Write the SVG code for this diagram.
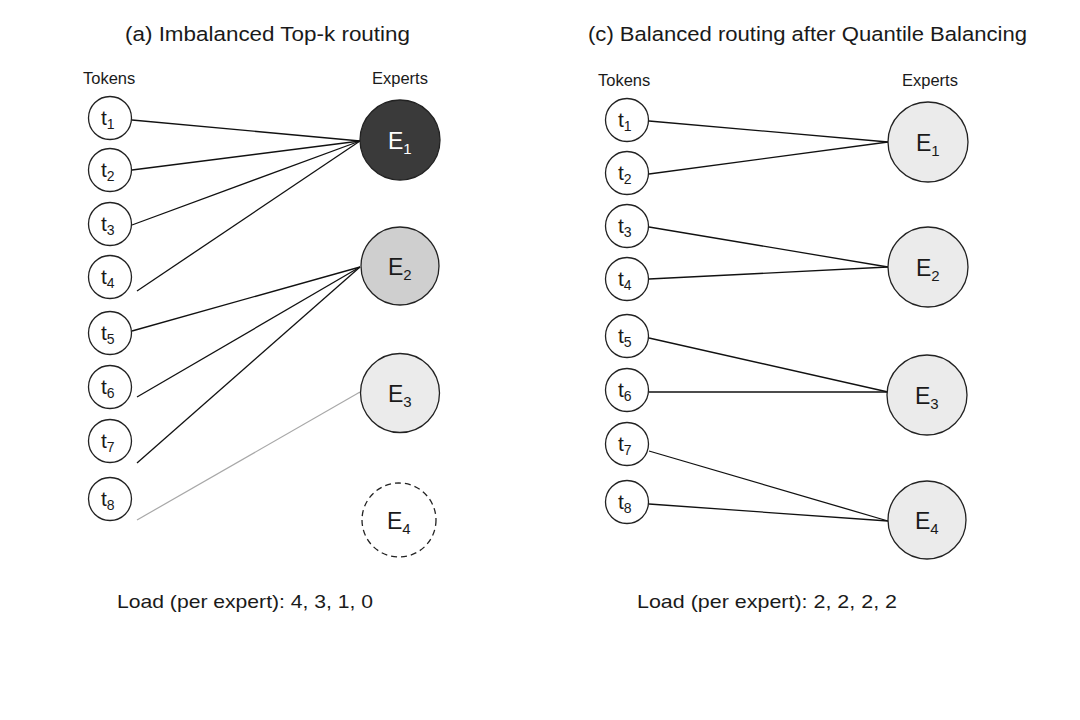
<svg xmlns="http://www.w3.org/2000/svg" width="1080" height="720" viewBox="0 0 1080 720">
<style>
text{font-family:"Liberation Sans",Arial,sans-serif;fill:#1a1a1a}
.title{font-size:20.5px}
.hdr{font-size:16.5px}
.load{font-size:19px}
.tok{fill:#fff;stroke:#222;stroke-width:1.3}
.tl{font-size:21px}
.sub{font-size:14px}
.el{font-size:23px}
.es{font-size:15px}
.exp{stroke:#222;stroke-width:1.3}
.conn line{stroke:#111;stroke-width:1.3}
</style>
<rect width="1080" height="720" fill="#fff"/>
<text class="title" x="125" y="41" textLength="285" lengthAdjust="spacingAndGlyphs">(a) Imbalanced Top-k routing</text>
<text class="title" x="588" y="41" textLength="439" lengthAdjust="spacingAndGlyphs">(c) Balanced routing after Quantile Balancing</text>
<text class="hdr" x="83" y="84">Tokens</text>
<text class="hdr" x="372" y="84">Experts</text>
<text class="hdr" x="598" y="86">Tokens</text>
<text class="hdr" x="902" y="86">Experts</text>

<g class="conn" id="connectors-a">
<line x1="132" y1="120" x2="360" y2="141"/>
<line x1="132" y1="170" x2="360" y2="141"/>
<line x1="132" y1="225" x2="360" y2="141"/>
<line x1="137" y1="291" x2="360" y2="141"/>
<line x1="132" y1="331" x2="360" y2="267"/>
<line x1="137" y1="397" x2="360" y2="267"/>
<line x1="137" y1="463" x2="360" y2="267"/>
<line x1="137" y1="520" x2="360" y2="392" style="stroke:#a8a8a8;stroke-width:1.2"/>
</g>
<g class="conn" id="connectors-c">
<line x1="649" y1="121" x2="888" y2="142"/>
<line x1="649" y1="174" x2="888" y2="142"/>
<line x1="649" y1="227" x2="888" y2="267"/>
<line x1="649" y1="279" x2="888" y2="267"/>
<line x1="649" y1="338" x2="888" y2="392"/>
<line x1="649" y1="392" x2="888" y2="392"/>
<line x1="649" y1="451" x2="888" y2="521"/>
<line x1="649" y1="504" x2="888" y2="521"/>
</g>

<g id="a-t1"><circle class="tok" cx="110" cy="118" r="21.5"/><text class="tl" x="101" y="125">t<tspan class="sub" dy="4">1</tspan></text></g>
<g id="a-t2"><circle class="tok" cx="110" cy="170" r="21.5"/><text class="tl" x="101" y="177">t<tspan class="sub" dy="4">2</tspan></text></g>
<g id="a-t3"><circle class="tok" cx="110" cy="224" r="21.5"/><text class="tl" x="101" y="231">t<tspan class="sub" dy="4">3</tspan></text></g>
<g id="a-t4"><circle class="tok" cx="110" cy="277" r="21.5"/><text class="tl" x="101" y="284">t<tspan class="sub" dy="4">4</tspan></text></g>
<g id="a-t5"><circle class="tok" cx="110" cy="333" r="21.5"/><text class="tl" x="101" y="340">t<tspan class="sub" dy="4">5</tspan></text></g>
<g id="a-t6"><circle class="tok" cx="110" cy="387" r="21.5"/><text class="tl" x="101" y="394">t<tspan class="sub" dy="4">6</tspan></text></g>
<g id="a-t7"><circle class="tok" cx="110" cy="441" r="21.5"/><text class="tl" x="101" y="448">t<tspan class="sub" dy="4">7</tspan></text></g>
<g id="a-t8"><circle class="tok" cx="110" cy="499" r="21.5"/><text class="tl" x="101" y="506">t<tspan class="sub" dy="4">8</tspan></text></g>

<g id="a-E1"><circle class="exp" cx="400" cy="140" r="40" fill="#3a3a3a"/><text class="el" x="388" y="149" style="fill:#fff">E<tspan class="es" dy="5" style="fill:#fff">1</tspan></text></g>
<g id="a-E2"><circle class="exp" cx="400" cy="266" r="39" fill="#cfcfcf"/><text class="el" x="388" y="275">E<tspan class="es" dy="5">2</tspan></text></g>
<g id="a-E3"><circle class="exp" cx="400" cy="393" r="39.5" fill="#ebebeb"/><text class="el" x="388" y="402">E<tspan class="es" dy="5">3</tspan></text></g>
<g id="a-E4"><circle class="exp" cx="399" cy="520" r="37" fill="none" stroke-dasharray="6,4"/><text class="el" x="387" y="529">E<tspan class="es" dy="5">4</tspan></text></g>

<g id="c-t1"><circle class="tok" cx="627" cy="120" r="21.5"/><text class="tl" x="618" y="127">t<tspan class="sub" dy="4">1</tspan></text></g>
<g id="c-t2"><circle class="tok" cx="627" cy="173" r="21.5"/><text class="tl" x="618" y="180">t<tspan class="sub" dy="4">2</tspan></text></g>
<g id="c-t3"><circle class="tok" cx="627" cy="226" r="21.5"/><text class="tl" x="618" y="233">t<tspan class="sub" dy="4">3</tspan></text></g>
<g id="c-t4"><circle class="tok" cx="627" cy="279" r="21.5"/><text class="tl" x="618" y="286">t<tspan class="sub" dy="4">4</tspan></text></g>
<g id="c-t5"><circle class="tok" cx="627" cy="336" r="21.5"/><text class="tl" x="618" y="343">t<tspan class="sub" dy="4">5</tspan></text></g>
<g id="c-t6"><circle class="tok" cx="627" cy="390" r="21.5"/><text class="tl" x="618" y="397">t<tspan class="sub" dy="4">6</tspan></text></g>
<g id="c-t7"><circle class="tok" cx="627" cy="444" r="21.5"/><text class="tl" x="618" y="451">t<tspan class="sub" dy="4">7</tspan></text></g>
<g id="c-t8"><circle class="tok" cx="627" cy="502" r="21.5"/><text class="tl" x="618" y="509">t<tspan class="sub" dy="4">8</tspan></text></g>

<g id="c-E1"><circle class="exp" cx="928" cy="142" r="40" fill="#ebebeb"/><text class="el" x="916" y="151">E<tspan class="es" dy="5">1</tspan></text></g>
<g id="c-E2"><circle class="exp" cx="928" cy="267" r="40" fill="#ebebeb"/><text class="el" x="916" y="276">E<tspan class="es" dy="5">2</tspan></text></g>
<g id="c-E3"><circle class="exp" cx="927" cy="395" r="40" fill="#ebebeb"/><text class="el" x="915" y="404">E<tspan class="es" dy="5">3</tspan></text></g>
<g id="c-E4"><circle class="exp" cx="927" cy="520" r="39" fill="#ebebeb"/><text class="el" x="915" y="529">E<tspan class="es" dy="5">4</tspan></text></g>

<text class="load" x="117" y="608" textLength="256" lengthAdjust="spacingAndGlyphs">Load (per expert): 4, 3, 1, 0</text>
<text class="load" x="637" y="608" textLength="260" lengthAdjust="spacingAndGlyphs">Load (per expert): 2, 2, 2, 2</text>
</svg>
